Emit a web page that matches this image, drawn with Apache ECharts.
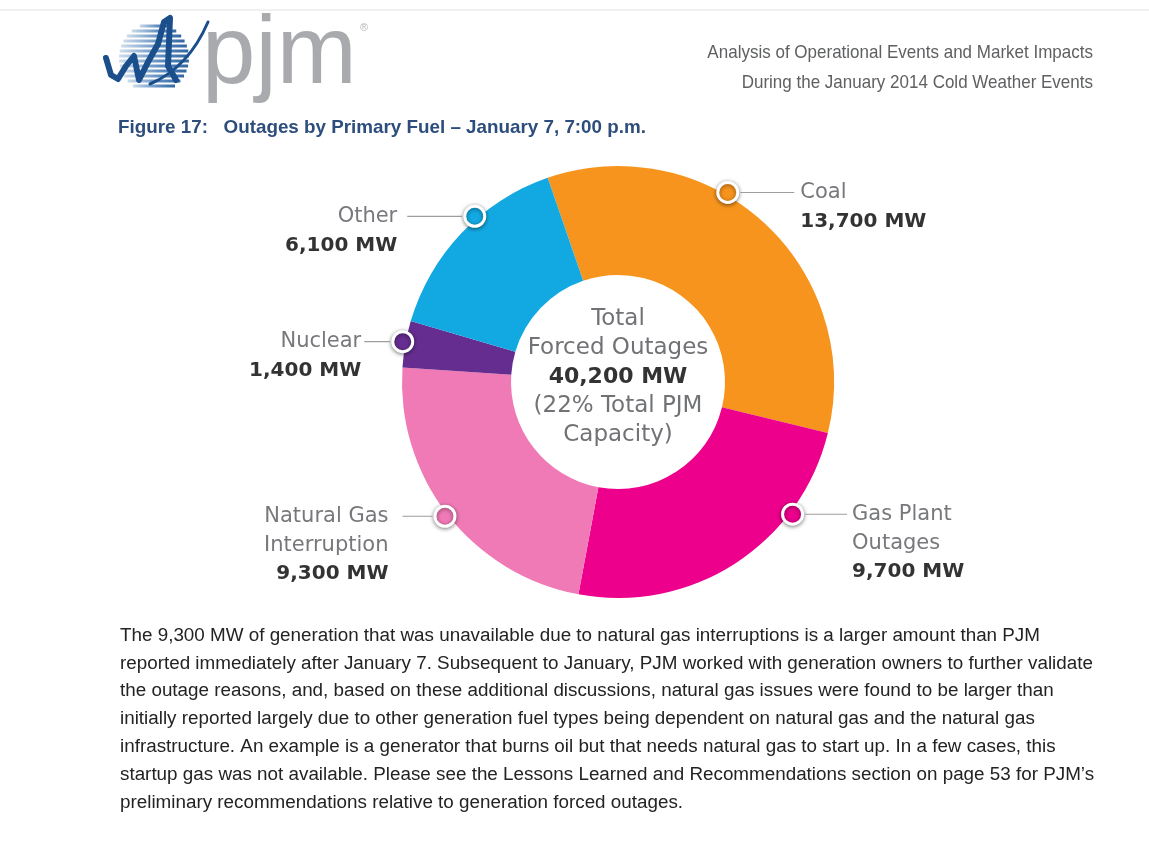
<!DOCTYPE html>
<html>
<head>
<meta charset="utf-8">
<script src="https://cdn.jsdelivr.net/npm/echarts@6/dist/echarts.min.js"></script>
<style>
  html, body { margin: 0; padding: 0; background: #fff; }
  #chart { width: 1149px; height: 859px; }
</style>
</head>
<body>
<div id="chart"></div>
<script>
// data
const fuels = ["Coal", "Gas Plant Outages", "Natural Gas Interruption", "Nuclear", "Other"];
const fuelLabels = ["Coal", "Gas Plant\nOutages", "Natural Gas\nInterruption", "Nuclear", "Other"];
const outagesMW = [13700, 9700, 9300, 1400, 6100];
const capacityShare = 22; // % of total PJM capacity

// look & layout
const colors = ["#F7941D", "#EC008C", "#F07AB6", "#662D91", "#12A9E3"];
const markerAt = [0.40, 0.27, 0.50, 0.54, 0.60]; // where the dot sits inside its slice
const labelSide = ["right", "right", "left", "left", "left"];
const leaderLen = [54, 42, 30, 26, 55];
const leaderGap = [6, 5, 14, 3, 10];

const center = [618, 382];
const font = "DejaVu Sans";
const total = outagesMW.reduce((a, b) => a + b, 0);
const fmt = v => v.toLocaleString("en-US") + " MW";

const chart = echarts.init(document.getElementById("chart"));

let acc = 0;
const markers = outagesMW.map((v, i) => {
  const angle = acc + v * markerAt[i];
  acc += v;
  const names = fuelLabels[i].split("\n");
  const lines = names.length + 1;
  let text;
  if (labelSide[i] === "right") {
    text = names.map((n, k) => (k === 0 ? "{hr|}{g|}" : "{sp|}") + "{n|" + n + "}")
      .concat(["{sp|}{v|" + fmt(v) + "}"]).join("\n");
  } else {
    text = names.map((n, k) => "{n|" + n + "}" + (k === 0 ? "{g|}{hr|}" : "{sp|}"))
      .concat(["{v|" + fmt(v) + "}{sp|}"]).join("\n");
  }
  return {
    name: fuels[i],
    value: [1, angle],
    itemStyle: { color: colors[i] },
    label: {
      show: true,
      position: labelSide[i],
      distance: 1,
      offset: [0, 14.5 * (lines - 1)],
      formatter: text,
      rich: {
        n: { fontFamily: font, fontSize: 21, color: "#77787b", lineHeight: 29 },
        v: { fontFamily: font, fontSize: 20, fontWeight: "bold", color: "#333", lineHeight: 29 },
        hr: { width: leaderLen[i], height: 0, borderWidth: 1.2, borderColor: "#9d9d9d" },
        g: { width: leaderGap[i] },
        sp: { width: leaderLen[i] + leaderGap[i] }
      }
    }
  };
});

// logo stripes
const stripes = [];
for (let y = 26; y <= 90; y += 5) {
  const dy = y - 58;
  const hw = Math.sqrt(Math.max(0, 35 * 35 - dy * dy));
  stripes.push({
    type: "line",
    shape: { x1: 154 - hw, y1: y, x2: 154 + hw, y2: y },
    style: {
      lineWidth: 3,
      stroke: new echarts.graphic.LinearGradient(0, 0, 1, 0, [
        { offset: 0, color: "#d6e2ef" },
        { offset: 0.6, color: "#5d8cc0" },
        { offset: 1, color: "#2d639f" }
      ], false)
    }
  });
}

const option = {
  animation: false,
  graphic: [
    { type: "line", shape: { x1: 0, y1: 10, x2: 1149, y2: 10 }, style: { stroke: "#e2e2e2", lineWidth: 1 } },
    { type: "group", children: stripes },
    {
      type: "polyline",
      shape: { points: [[106, 58], [111, 75], [118, 79], [126, 66], [134, 56], [139, 80], [148, 62], [158, 44], [164, 22], [170, 18], [168, 66], [176, 80]] },
      style: { stroke: "#1b4f8b", lineWidth: 6, fill: null, lineJoin: "round", lineCap: "round" }
    },
    {
      type: "bezierCurve",
      shape: { x1: 150, y1: 84, cpx1: 178, cpy1: 72, x2: 208, y2: 22, cpx2: 196, cpy2: 50 },
      style: { stroke: "#1b4f8b", lineWidth: 3, fill: null, lineCap: "round" }
    },
    {
      type: "text", x: 202, y: 105,
      style: { text: "pjm", font: "96px 'Liberation Sans'", fill: "#a8aaad", verticalAlign: "bottom", textVerticalAlign: "bottom" }
    },
    { type: "text", x: 360, y: 22, style: { text: "®", font: "11px 'Liberation Sans'", fill: "#b5b7ba" } },
    {
      type: "text", x: 1093, y: 53, scaleX: 0.895,
      style: { text: "Analysis of Operational Events and Market Impacts", font: "19px 'Liberation Sans'", fill: "#5f6062", textAlign: "right", align: "right", textVerticalAlign: "middle", verticalAlign: "middle" }
    },
    {
      type: "text", x: 1093, y: 83, scaleX: 0.895,
      style: { text: "During the January 2014 Cold Weather Events", font: "19px 'Liberation Sans'", fill: "#5f6062", textAlign: "right", align: "right", textVerticalAlign: "middle", verticalAlign: "middle" }
    },
    {
      type: "text", x: 118, y: 128, scaleX: 0.99,
      style: { text: "Figure 17:   Outages by Primary Fuel \u2013 January 7, 7:00 p.m.", font: "bold 19px 'Liberation Sans'", fill: "#2d4d7c", textVerticalAlign: "middle", verticalAlign: "middle" }
    },
    {
      type: "text", x: center[0], y: center[1] - 5,
      style: {
        text: "{a|Total}\n{a|Forced Outages}\n{b|" + fmt(total) + "}\n{a|(" + capacityShare + "% Total PJM}\n{a|Capacity)}",
        textAlign: "center", align: "center", textVerticalAlign: "middle", verticalAlign: "middle",
        rich: {
          a: { fontFamily: font, fontSize: 23, fill: "#717275", color: "#717275", lineHeight: 29, align: "center" },
          b: { fontFamily: font, fontSize: 22, fontWeight: "bold", fill: "#333", color: "#333", lineHeight: 29, align: "center" }
        }
      },
      z: 100
    },
    {
      type: "text", x: 120, y: 622, scaleX: 1.046,
      style: {
        text: "The 9,300 MW of generation that was unavailable due to natural gas interruptions is a larger amount than PJM\n" +
          "reported immediately after January 7. Subsequent to January, PJM worked with generation owners to further validate\n" +
          "the outage reasons, and, based on these additional discussions, natural gas issues were found to be larger than\n" +
          "initially reported largely due to other generation fuel types being dependent on natural gas and the natural gas\n" +
          "infrastructure. An example is a generator that burns oil but that needs natural gas to start up. In a few cases, this\n" +
          "startup gas was not available. Please see the Lessons Learned and Recommendations section on page 53 for PJM\u2019s\n" +
          "preliminary recommendations relative to generation forced outages.",
        font: "18px 'Liberation Sans'", fill: "#232323", lineHeight: 27.8
      }
    }
  ],
  polar: { center: center, radius: 219 },
  angleAxis: { type: "value", min: 0, max: total, startAngle: 109, clockwise: true, show: false },
  radiusAxis: { type: "value", min: 0, max: 1, show: false },
  series: [
    {
      type: "pie",
      center: center,
      radius: [107, 216],
      startAngle: 109,
      clockwise: true,
      silent: true,
      label: { show: false },
      labelLine: { show: false },
      emphasis: { disabled: true },
      itemStyle: { borderWidth: 0 },
      data: fuels.map((f, i) => ({ name: f, value: outagesMW[i], itemStyle: { color: colors[i] } }))
    },
    {
      type: "scatter",
      coordinateSystem: "polar",
      symbol: "circle",
      symbolSize: 20,
      silent: true,
      itemStyle: {
        borderColor: "#fff",
        borderWidth: 3,
        opacity: 1,
        shadowBlur: 4,
        shadowColor: "rgba(0,0,0,0.45)",
        shadowOffsetY: 1
      },
      emphasis: { disabled: true },
      data: markers
    }
  ]
};

chart.setOption(option);
</script>
</body>
</html>
